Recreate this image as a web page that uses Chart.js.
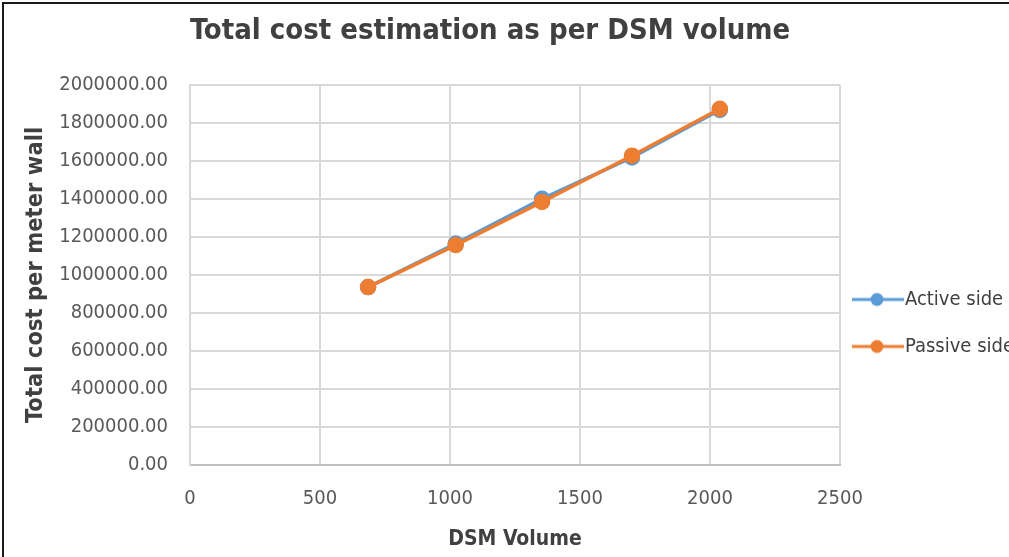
<!DOCTYPE html>
<html><head><meta charset="utf-8">
<script src="https://cdn.jsdelivr.net/npm/chart.js@4"></script>
<style>
html,body{margin:0;padding:0;background:#fff;overflow:hidden;width:1009px;height:557px}
#wrap{position:absolute;left:0;top:0;width:1009px;height:557px;overflow:hidden;background:#fff}
#frame{position:absolute;left:2px;top:2px;width:1060px;height:600px;border:2px solid #1a1a1a;box-sizing:border-box;pointer-events:none}
#cw{position:absolute;left:-44px;top:0;width:1068px;height:557px}
</style></head><body>
<div id="wrap"><div id="cw"><canvas id="c" width="1068" height="557"></canvas></div><div id="frame"></div></div>
<script>
const chartTitle = 'Total cost estimation as per DSM volume';
const xTitle = 'DSM Volume';
const yTitle = 'Total cost per meter wall';
const seriesNames = ['Active side', 'Passive side'];
const dsmVolume = [685, 1022, 1354, 1700, 2038];
const activeSide = [936000, 1165000, 1400000, 1618000, 1868000];
const passiveSide = [936000, 1157000, 1384000, 1627000, 1874000];
const xTicks = [0, 500, 1000, 1500, 2000, 2500];
const yTicks = [0, 200000, 400000, 600000, 800000, 1000000, 1200000, 1400000, 1600000, 1800000, 2000000];

const BLUE = '#5B9BD5', ORANGE = '#ED7D31';
const FONT = "'Liberation Sans Narrow', 'DejaVu Sans Condensed', 'Liberation Sans', sans-serif";

function legendIcon(color){
  const c = document.createElement('canvas');
  c.width = 58; c.height = 16;
  const g = c.getContext('2d');
  g.strokeStyle = color; g.lineWidth = 3; g.lineCap = 'butt';
  g.beginPath(); g.moveTo(0, 8); g.lineTo(52, 8); g.stroke();
  g.fillStyle = color; g.beginPath(); g.arc(25, 8, 6.5, 0, Math.PI*2); g.fill();
  return c;
}

const pts = (ys) => dsmVolume.map((x, i) => ({x, y: ys[i]}));

new Chart(document.getElementById('c'), {
  type: 'line',
  data: {
    datasets: [
      {label: seriesNames[0], data: pts(activeSide), borderColor: BLUE, backgroundColor: BLUE, order: 1,
       borderWidth: 3.5, pointRadius: 6.5, pointBackgroundColor: BLUE, pointBorderColor: BLUE, tension: 0},
      {label: seriesNames[1], data: pts(passiveSide), borderColor: ORANGE, backgroundColor: ORANGE, order: 0,
       borderWidth: 3.5, pointRadius: 6.5, pointBackgroundColor: ORANGE, pointBorderColor: ORANGE, tension: 0}
    ]
  },
  options: {
    responsive: false,
    animation: false,
    elements: {point: {pointStyle: 'circle'}},
    layout: {padding: {left: 0, top: 8, right: 0, bottom: 5}},
    plugins: {
      title: {display: true, text: chartTitle, color: '#404040',
              font: {family: FONT, size: 29, weight: 'bold'}, padding: {top: 6, bottom: 36}},
      legend: {position: 'right', align: 'center',
        title: {display: true, text: ' ', font: {size: 10}, padding: {top: 74, bottom: 0}},
        labels: {usePointStyle: true, pointStyleWidth: 28, color: '#404040', font: {family: FONT, size: 20}, padding: 27,
          sort: (a, b) => a.datasetIndex - b.datasetIndex,
          generateLabels: (chart) => chart.data.datasets.map((d, i) => ({
            text: d.label, pointStyle: legendIcon(d.borderColor), fillStyle: d.borderColor,
            strokeStyle: d.borderColor, lineWidth: 0, datasetIndex: i, hidden: false, fontColor: '#404040'}))
        }},
      tooltip: {enabled: false}
    },
    scales: {
      x: {type: 'linear', min: 0, max: 2500,
        afterBuildTicks: (s) => { s.ticks = xTicks.map(v => ({value: v})); },
        ticks: {color: '#595959', font: {family: FONT, size: 20}, padding: 22, callback: (v) => String(v)},
        grid: {color: '#d9d9d9', lineWidth: 2, drawTicks: false},
        border: {color: '#bfbfbf', width: 2},
        title: {display: true, text: xTitle, color: '#404040', font: {family: FONT, size: 21, weight: 'bold'}, padding: {top: 14, bottom: 0}},
        afterFit: (s) => { s.height = 87; }
      },
      y: {type: 'linear', min: 0, max: 2000000,
        afterBuildTicks: (s) => { s.ticks = yTicks.map(v => ({value: v})); },
        ticks: {color: '#595959', font: {family: FONT, size: 20}, padding: 22, callback: (v) => Number(v).toFixed(2)},
        grid: {color: '#d9d9d9', lineWidth: 2, drawTicks: false},
        border: {color: '#d9d9d9', width: 2},
        title: {display: true, text: yTitle, color: '#404040', font: {family: FONT, size: 23.5, weight: 'bold'}, padding: {top: 66, bottom: 8}},
        afterFit: (s) => { s.width = 234; }
      }
    }
  }
});
</script>
</body></html>
